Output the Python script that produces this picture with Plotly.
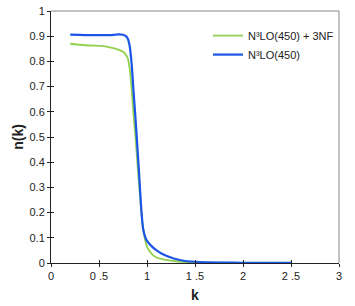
import plotly.graph_objects as go

k_blue = [0.2, 0.3, 0.4, 0.5, 0.6, 0.65, 0.7, 0.75, 0.78, 0.8, 0.82, 0.84, 0.86, 0.88, 0.9,
          0.92, 0.94, 0.96, 0.98, 1.0, 1.05, 1.1, 1.15, 1.2, 1.25, 1.3, 1.4, 1.5, 1.75, 2.0, 2.5]
n_blue = [0.906, 0.905, 0.904, 0.904, 0.904, 0.905, 0.907, 0.906, 0.9, 0.89, 0.86, 0.79, 0.68, 0.575, 0.46,
          0.34, 0.215, 0.135, 0.105, 0.088, 0.066, 0.05, 0.038, 0.029, 0.022, 0.016, 0.008, 0.005, 0.002, 0.001, 0.0003]

k_green = [0.2, 0.3, 0.4, 0.5, 0.55, 0.6, 0.65, 0.7, 0.75, 0.78, 0.8, 0.82, 0.84, 0.86, 0.88, 0.9,
           0.92, 0.94, 0.96, 0.98, 1.0, 1.05, 1.1, 1.15, 1.2, 1.3, 1.4, 1.5, 2.0, 2.5]
n_green = [0.87, 0.866, 0.863, 0.862, 0.861, 0.857, 0.853, 0.847, 0.838, 0.826, 0.812, 0.77, 0.69, 0.587, 0.5, 0.395,
           0.3, 0.205, 0.135, 0.092, 0.065, 0.035, 0.022, 0.016, 0.012, 0.007, 0.004, 0.002, 0.0005, 0.0]

x_tickvals = [0, 0.5, 1, 1.5, 2, 2.5, 3]
x_ticktext = ["0", "0 .5", "1", "1 .5", "2", "2 .5", "3"]
y_tickvals = [0, 0.1, 0.2, 0.3, 0.4, 0.5, 0.6, 0.7, 0.8, 0.9, 1]
y_ticktext = ["0", "0.1", "0.2", "0.3", "0.4", "0.5", "0.6", "0.7", "0.8", "0.9", "1"]

FONT = "Liberation Sans, Arial, sans-serif"

fig = go.Figure()
fig.add_trace(go.Scatter(x=k_green, y=n_green, mode="lines", name="N³LO(450) + 3NF",
                         line=dict(color="#92d050", width=1.8, shape="spline", smoothing=0.6)))
fig.add_trace(go.Scatter(x=k_blue, y=n_blue, mode="lines", name="N³LO(450)",
                         line=dict(color="#1a55e8", width=2.2, shape="spline", smoothing=0.6)))
# invisible trace to host the overlay axes (inner half of crossing ticks)
fig.add_trace(go.Scatter(x=[0], y=[0], xaxis="x2", yaxis="y2", mode="markers",
                         marker=dict(opacity=0), showlegend=False, hoverinfo="skip"))

axis_common = dict(showgrid=False, zeroline=False, linecolor="#222222", linewidth=1,
                   ticks="outside", ticklen=3, tickcolor="#222222", tickwidth=1, automargin=False,
                   tickfont=dict(family=FONT, size=11, color="#222222"))

fig.update_layout(
    width=355, height=306,
    margin=dict(l=51, r=16, t=11, b=43),
    paper_bgcolor="white", plot_bgcolor="white",
    font=dict(family=FONT, size=11, color="#222222"),
    xaxis=dict(range=[0, 3], tickvals=x_tickvals, ticktext=x_ticktext,
               title=dict(text="<b>k</b>", font=dict(family=FONT, size=14, color="#222222"), standoff=8),
               showline=True, **axis_common),
    yaxis=dict(range=[0, 1], tickvals=y_tickvals, ticktext=y_ticktext,
               title=dict(text="<b>n(k)</b>", font=dict(family=FONT, size=14, color="#222222"), standoff=2),
               showline=True, **axis_common),
    xaxis2=dict(overlaying="x", anchor="y2", range=[0, 3], tickvals=x_tickvals, showticklabels=False,
                ticks="inside", ticklen=3, tickcolor="#222222", showgrid=False, zeroline=False, showline=False,
                side="bottom", automargin=False),
    yaxis2=dict(overlaying="y", anchor="x2", range=[0, 1], tickvals=y_tickvals, showticklabels=False,
                ticks="inside", ticklen=3, tickcolor="#222222", showgrid=False, zeroline=False, showline=False,
                side="left", automargin=False),
    legend=dict(x=0.545, y=0.96, xanchor="left", yanchor="top", bgcolor="rgba(0,0,0,0)",
                font=dict(family=FONT, size=11, color="#222222"), tracegroupgap=0, itemwidth=30),
    shapes=[
        dict(type="line", xref="paper", yref="paper", x0=0, x1=1, y0=1, y1=1,
             line=dict(color="#888888", width=1)),
        dict(type="line", xref="paper", yref="paper", x0=1, x1=1, y0=0, y1=1,
             line=dict(color="#888888", width=1)),
    ],
)

fig.write_html("out.html", config={"displayModeBar": False},
               post_script="document.body.style.margin='0';document.body.style.overflow='hidden';")
